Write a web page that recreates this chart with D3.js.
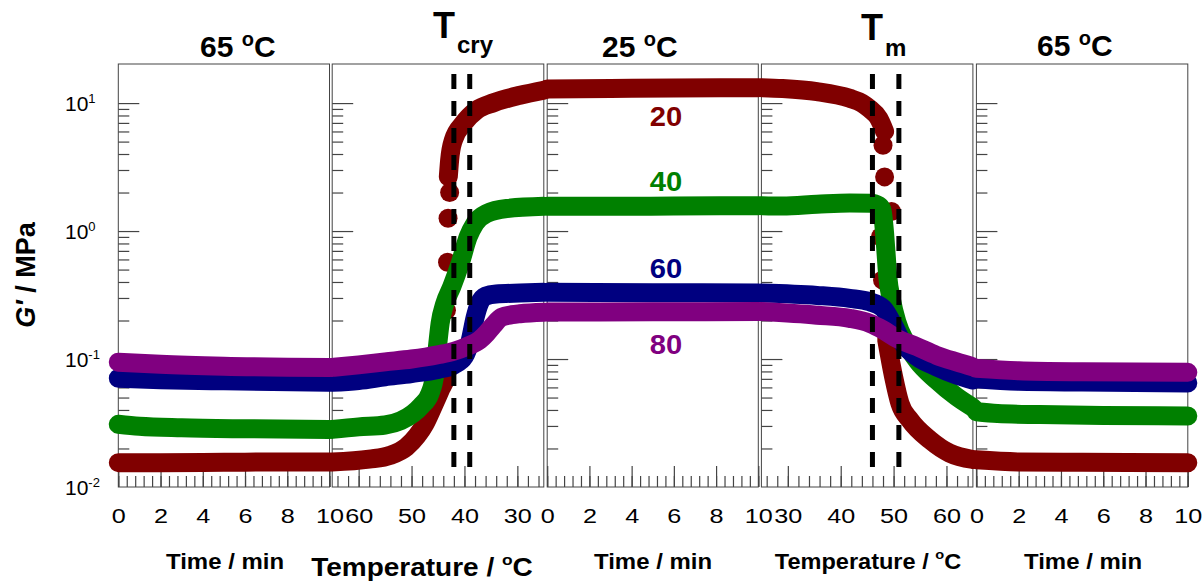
<!DOCTYPE html>
<html>
<head>
<meta charset="utf-8">
<script src="https://cdn.jsdelivr.net/npm/d3@7"></script>
<style>
  body { margin: 0; background: #fff; }
  svg text { font-family: "Liberation Sans", Arial, sans-serif; }
</style>
</head>
<body>
<svg id="chart" width="1204" height="581"></svg>
<script>
// ---- Series (sample composition) ----
const seriesNames = ["20", "40", "60", "80"];
const seriesColors = ["#800000", "#008000", "#000080", "#800080"];

// ---- Stage 1: isothermal hold at 65 °C  [time / min, G' / MPa] ----
const hold65a_20 = [[0, 0.0155], [2, 0.0155], [5, 0.0156], [8, 0.0157], [10, 0.0157]];
const hold65a_40 = [[0, 0.0309], [1, 0.0298], [3, 0.0290], [6, 0.0285], [10, 0.0282]];
const hold65a_60 = [[0, 0.0707], [2, 0.0690], [5, 0.0675], [10, 0.0658]];
const hold65a_80 = [[0, 0.0945], [2, 0.0910], [5, 0.0880], [10, 0.0860]];

// ---- Stage 2: cooling 65 -> 25 °C  [temperature / °C, G' / MPa] ----
const cool_20 = [[65, 0.0157], [58, 0.0165], [54, 0.0177], [51, 0.0205], [49, 0.025], [47.5, 0.031],
                 [46, 0.042], [44.5, 0.058], [43.4, 0.075], [43.0, 0.10]];
const cool_20_upper = [[43.05, 2.65], [42.8, 3.59], [42.1, 5.13], [40.2, 6.94], [37.7, 8.82],
                       [34.5, 10.06], [29.5, 11.5], [25, 12.6]];
const cool_20_dots = [[43.4, 0.24], [43.2, 0.57], [43.1, 1.26], [42.8, 2.0]];
const cool_40 = [[65, 0.0282], [60, 0.0295], [55, 0.0305], [52, 0.0330], [49.7, 0.0376], [48.2, 0.043],
                 [46.5, 0.054], [45.6, 0.077], [45.1, 0.125], [44.6, 0.19], [43.7, 0.272], [42.4, 0.367],
                 [40.8, 0.56], [39.3, 0.90], [38.0, 1.15], [35.8, 1.37], [32.0, 1.50], [25, 1.56]];
const cool_60 = [[65, 0.0658], [60, 0.068], [55, 0.0726], [50, 0.077], [45, 0.083], [42, 0.090],
                 [40.0, 0.105], [38.9, 0.14], [38.0, 0.21], [37.2, 0.27], [36.0, 0.31], [34, 0.322],
                 [29.5, 0.328], [25, 0.332]];
const cool_80 = [[65, 0.086], [60, 0.090], [55, 0.095], [50, 0.100], [45, 0.108], [42, 0.115],
                 [39.6, 0.125], [37.1, 0.141], [35.8, 0.159], [34.5, 0.184], [33, 0.212], [31, 0.222],
                 [29.5, 0.226], [25, 0.232]];

// ---- Stage 3: isothermal hold at 25 °C  [time / min, G' / MPa] ----
const hold25_20 = [[0, 12.9], [3, 13.0], [6, 13.1], [10, 13.2]];
const hold25_40 = [[0, 1.56], [3, 1.56], [6, 1.57], [10, 1.58]];
const hold25_60 = [[0, 0.333], [5, 0.330], [10, 0.328]];
const hold25_80 = [[0, 0.233], [5, 0.234], [10, 0.235]];

// ---- Stage 4: heating 25 -> 65 °C  [temperature / °C, G' / MPa] ----
const heat_20 = [[25, 13.2], [29, 13.0], [35.5, 12.3], [41.7, 10.9], [44, 10.0], [45.5, 9.0],
                 [47.2, 7.6], [47.9, 6.6], [48.3, 6.0]];
const heat_20_lower = [[48.7, 0.141], [50.0, 0.0726], [51.2, 0.045], [53.1, 0.0334], [56.9, 0.0233],
                       [60.6, 0.0184], [65, 0.0164]];
const heat_20_dots = [[48.0, 4.69], [48.3, 2.65], [49.6, 1.42], [47.5, 0.90], [47.9, 0.414]];
const heat_40 = [[25, 1.58], [29, 1.57], [35.5, 1.62], [41.7, 1.66], [45.7, 1.65], [47.2, 1.58],
                 [47.8, 1.46], [48.3, 0.96], [48.6, 0.65], [48.9, 0.44], [49.6, 0.289], [50.6, 0.196],
                 [52.4, 0.132], [54.4, 0.098], [58.1, 0.0685], [61.9, 0.0508], [65, 0.0418]];
const heat_60 = [[25, 0.328], [35.5, 0.314], [41.7, 0.298], [45.5, 0.28], [48, 0.249], [49.8, 0.19],
                 [51.8, 0.132], [54.4, 0.104], [58.1, 0.087], [61.9, 0.075], [65, 0.0685]];
const heat_80 = [[25, 0.235], [35.5, 0.220], [41.7, 0.208], [45.5, 0.190], [48, 0.169], [50.6, 0.145],
                 [54.4, 0.125], [58.1, 0.107], [61.9, 0.095], [65, 0.087]];

// ---- Stage 5: isothermal hold at 65 °C  [time / min, G' / MPa] ----
const hold65b_20 = [[0, 0.0163], [2, 0.0157], [5, 0.0156], [10, 0.0155]];
const hold65b_40 = [[0, 0.0387], [1, 0.0375], [3, 0.0368], [6, 0.0362], [10, 0.0359]];
const hold65b_60 = [[0, 0.0700], [2, 0.0670], [5, 0.0660], [10, 0.0650]];
const hold65b_80 = [[0, 0.0845], [2, 0.0810], [5, 0.0795], [10, 0.0787]];

// ---- Transition markers (°C) ----
const tCry = [42, 39];
const tMelt = [46, 51];
const markerSpan = [0.0141, 16.9];

// ---- Axis ticks ----
const timeTicks = [0, 2, 4, 6, 8, 10];
const coolTicks = [60, 50, 40, 30];
const heatTicks = [30, 40, 50, 60];
const yDecades = [10, 1, 0.1, 0.01];
const yDecadeExp = ["1", "0", "-1", "-2"];

// ---------------------------------------------------------------
const svg = d3.select("#chart");
const plotTop = 64, plotBottom = 487;
const y = d3.scaleLog().domain([0.01, 20.2]).range([plotBottom, plotTop]);

const panels = [
  { x0: 118.3, x1: 329.5, domain: [0, 10],  major: timeTicks, minor: d3.range(0, 10.001, 0.4),
    lines: [[hold65a_20], [hold65a_40], [hold65a_60], [hold65a_80]], dots: [[], [], [], []] },
  { x0: 332.2, x1: 543.8, domain: [65, 25], major: coolTicks, minor: d3.range(26, 65, 2),
    lines: [[cool_20, cool_20_upper], [cool_40], [cool_60], [cool_80]], dots: [cool_20_dots, [], [], []] },
  { x0: 547.2, x1: 758.3, domain: [0, 10],  major: timeTicks, minor: d3.range(0, 10.001, 0.4),
    lines: [[hold25_20], [hold25_40], [hold25_60], [hold25_80]], dots: [[], [], [], []] },
  { x0: 761.4, x1: 972.9, domain: [25, 65], major: heatTicks, minor: d3.range(26, 65, 2),
    lines: [[heat_20, heat_20_lower], [heat_40], [heat_60], [heat_80]], dots: [heat_20_dots, [], [], []] },
  { x0: 976.4, x1: 1187.8, domain: [0, 10], major: timeTicks, minor: d3.range(0, 10.001, 0.4),
    lines: [[hold65b_20], [hold65b_40], [hold65b_60], [hold65b_80]], dots: [[], [], [], []] }
];
panels.forEach(p => { p.x = d3.scaleLinear().domain(p.domain).range([p.x0, p.x1]); });

const yMinor = [];
[0.01, 0.1, 1].forEach(d => { for (let k = 2; k <= 9; k++) yMinor.push(d * k); });

const tickColor = "#444";

// frames and axes
panels.forEach(p => {
  const g = svg.append("g");
  g.append("rect")
    .attr("x", p.x0).attr("y", plotTop)
    .attr("width", p.x1 - p.x0).attr("height", plotBottom - plotTop)
    .attr("fill", "none").attr("stroke", "#444").attr("stroke-width", 1);

  // bottom axis: labelled major ticks, short minor ticks, both pointing inward
  const axMinor = g.append("g").attr("transform", `translate(0,${plotBottom})`)
    .call(d3.axisBottom(p.x).tickValues(p.minor).tickSize(-11).tickFormat(""));
  const axMajor = g.append("g").attr("transform", `translate(0,${plotBottom})`)
    .call(d3.axisBottom(p.x).tickValues(p.major).tickSizeInner(-21).tickSizeOuter(0).tickPadding(21).tickFormat(d3.format("d")));
  [axMinor, axMajor].forEach(a => {
    a.select(".domain").remove();
    a.selectAll("line").attr("stroke", tickColor).attr("stroke-width", 1.2);
  });
  // tick labels use a wide face: stretch horizontally about the tick
  axMajor.selectAll("text").attr("font-size", 21).attr("fill", "#000")
    .attr("transform", "scale(1.2,1)")
    .style("font-family", "'Liberation Sans', Arial, sans-serif");

  // left axis ticks pointing inward
  const lyMinor = g.append("g").attr("transform", `translate(${p.x0},0)`)
    .call(d3.axisRight(y).tickValues(yMinor).tickSize(11).tickFormat(""));
  const lyMajor = g.append("g").attr("transform", `translate(${p.x0},0)`)
    .call(d3.axisRight(y).tickValues([0.1, 1, 10]).tickSize(21).tickFormat(""));
  [lyMinor, lyMajor].forEach(a => {
    a.select(".domain").remove();
    a.selectAll("line").attr("stroke", tickColor).attr("stroke-width", 1.2);
  });
});

// y tick labels (powers of ten) on the first panel
yDecades.forEach((d, i) => {
  const t = svg.append("text")
    .attr("x", 65).attr("y", y(d) + 7.5)
    .attr("font-size", 21).attr("fill", "#000");
  t.append("tspan").text("10");
  t.append("tspan").attr("font-size", 13).attr("dy", -8).text(yDecadeExp[i]);
});

// data series: dense runs as thick round lines, isolated readings as dots
const R = 9.5;
seriesNames.forEach((name, si) => {
  panels.forEach(p => {
    const line = d3.line()
      .x(d => p.x(d[0])).y(d => y(d[1]))
      .curve(d3.curveMonotoneX);
    p.lines[si].forEach(run => {
      svg.append("path")
        .datum(run.slice().sort((a, b) => p.x(a[0]) - p.x(b[0])))
        .attr("d", line)
        .attr("fill", "none")
        .attr("stroke", seriesColors[si])
        .attr("stroke-width", 2 * R)
        .attr("stroke-linecap", "round")
        .attr("stroke-linejoin", "round");
    });
    svg.selectAll(null).data(p.dots[si]).enter().append("circle")
      .attr("cx", d => p.x(d[0])).attr("cy", d => y(d[1])).attr("r", R)
      .attr("fill", seriesColors[si]);
  });
});

// transition temperature markers
function markers(p, temps) {
  temps.forEach(t => {
    svg.append("line")
      .attr("x1", p.x(t)).attr("x2", p.x(t))
      .attr("y1", y(markerSpan[1])).attr("y2", y(markerSpan[0]))
      .attr("stroke", "#000").attr("stroke-width", 5)
      .attr("stroke-dasharray", "15 12");
  });
}
markers(panels[1], tCry);
markers(panels[3], tMelt);

// series labels
const labelY = [116, 181, 268, 344];
seriesNames.forEach((name, i) => {
  svg.append("text")
    .attr("transform", `translate(666,${labelY[i] + 9.5}) scale(1.08,1)`)
    .attr("text-anchor", "middle")
    .attr("font-size", 27).attr("font-weight", "bold")
    .attr("fill", seriesColors[i]).text(name);
});

// stage titles
function degTitle(x, yb, num) {
  const t = svg.append("text").attr("x", x).attr("y", yb)
    .attr("font-size", 30).attr("font-weight", "bold").attr("fill", "#000");
  t.append("tspan").text(num + " ");
  t.append("tspan").attr("font-size", 20).attr("dy", -11).text("o");
  t.append("tspan").attr("dy", 11).text("C");
}
degTitle(200, 57, "65");
degTitle(602, 57, "25");
degTitle(1037, 56, "65");

function subTitle(x, yb, main, sub, subDy) {
  const t = svg.append("text").attr("x", x).attr("y", yb)
    .attr("font-size", 36).attr("font-weight", "bold").attr("fill", "#000");
  t.append("tspan").text(main);
  t.append("tspan").attr("font-size", 24).attr("dx", 2).attr("dy", subDy).text(sub);
}
subTitle(433, 38, "T", "cry", 15);
subTitle(861, 40, "T", "m", 16);

// x-axis titles
function timeTitle(cx) {
  svg.append("text").attr("transform", `translate(${cx},569) scale(1.09,1)`)
    .attr("text-anchor", "middle")
    .attr("font-size", 22).attr("font-weight", "bold").text("Time / min");
}
timeTitle(225); timeTitle(653); timeTitle(1083);

function tempTitle(cx, yb, size, sx) {
  const t = svg.append("text").attr("transform", `translate(${cx},${yb}) scale(${sx},1)`)
    .attr("text-anchor", "middle")
    .attr("font-size", size).attr("font-weight", "bold");
  t.append("tspan").text("Temperature / ");
  t.append("tspan").attr("font-size", size * 0.62).attr("dy", -size * 0.45).text("o");
  t.append("tspan").attr("dy", size * 0.45).text("C");
}
tempTitle(422, 576, 25, 1.12);
tempTitle(868, 569, 22, 1.07);

// y-axis title
const yt = svg.append("text")
  .attr("transform", "translate(35,275) rotate(-90)")
  .attr("text-anchor", "middle")
  .attr("font-size", 27).attr("font-weight", "bold");
yt.append("tspan").attr("font-style", "italic").text("G'");
yt.append("tspan").text(" / MPa");
</script>
</body>
</html>
